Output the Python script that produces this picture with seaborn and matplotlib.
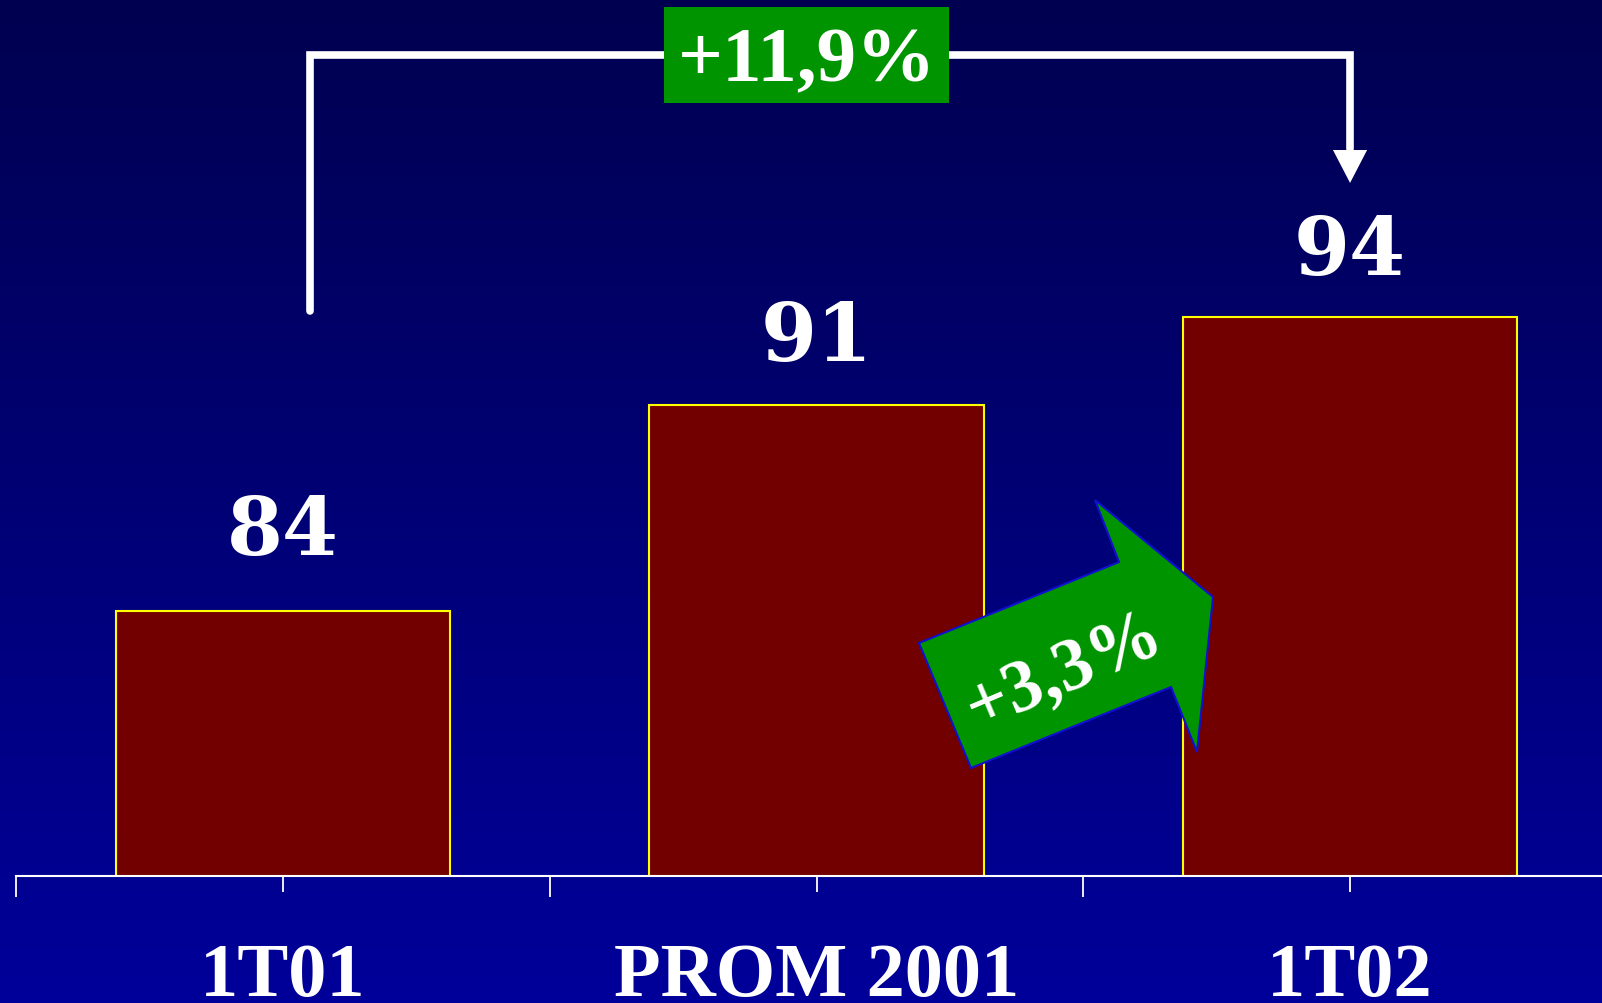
import matplotlib
matplotlib.use("Agg")
import matplotlib.pyplot as plt
import matplotlib.transforms as mtransforms
from matplotlib.colors import LinearSegmentedColormap
from matplotlib.patches import Polygon, Rectangle
import seaborn as sns
import numpy as np
import pandas as pd

# data
categories = ["1T01", "PROM 2001", "1T02"]
values = [84, 91, 94]
value_labels = ["84", "91", "94"]
total_growth = "+11,9%"
last_growth = "+3,3%"

W, H = 1602, 1004
BAR_COLOR = "#730000"
GREEN = "#009400"
label_offsets = [1.95, 1.55, 1.45]  # gap between bar top and value label (data units)

sns.set_style("white")
df = pd.DataFrame({"periodo": categories, "valor": values})

fig = plt.figure(figsize=(W / 100, H / 100), dpi=100)

# gradient background
bg = fig.add_axes([0, 0, 1, 1], zorder=0)
cmap = LinearSegmentedColormap.from_list("bg", ["#000050", "#00009a"])
grad = np.linspace(0, 1, 256).reshape(-1, 1)
bg.imshow(grad, aspect="auto", cmap=cmap, extent=[0, 1, 0, 1], origin="upper")
bg.axis("off")

# main axes: baseline at y=876.6 px, 533.5 px per category, 29.4 px per unit
base_px = 876.6
ax = fig.add_axes([16.3 / W, (H - base_px) / H, 3 * 533.5 / W, base_px / H], zorder=1)
ax.patch.set_alpha(0)

sns.barplot(data=df, x="periodo", y="valor", ax=ax, color=BAR_COLOR,
            saturation=1, width=0.627, edgecolor="#ffff00", linewidth=1.5)

ax.set_xlim(-0.5, 2.5)
ax.set_ylim(75, 75 + base_px / 29.4)
ax.set_xlabel("")
ax.set_ylabel("")
ax.set_yticks([])
for s in ["left", "top", "right"]:
    ax.spines[s].set_visible(False)
ax.spines["bottom"].set_color("white")
ax.spines["bottom"].set_linewidth(1.5)

ax.set_xticks(range(len(categories)))
ax.set_xticklabels(categories, fontfamily="Liberation Serif", fontweight="bold",
                   fontsize=55, color="white")
ax.set_xticks([-0.5, 0.5, 1.5, 2.5], minor=True)
ax.tick_params(axis="x", which="major", bottom=True, length=11.5, width=1.3,
               color="white", pad=36)
ax.tick_params(axis="x", which="minor", bottom=True, length=15, width=1.3,
               color="white")

# value labels
for i, (v, lab, off) in enumerate(zip(values, value_labels, label_offsets)):
    ax.text(i, v + off, lab, ha="center", va="baseline", color="white",
            fontfamily="DejaVu Serif", fontweight="bold", fontsize=58)

# bracket from first to last bar
bx0, bx1 = 0.05, 2.0
top_y, left_y, head_y, tip_y = 102.9, 94.2, 99.68, 98.56
ax.plot([bx0, bx0, bx1, bx1], [left_y, top_y, top_y, head_y + 0.05],
        color="white", lw=5.5, solid_capstyle="round", solid_joinstyle="miter",
        zorder=4, clip_on=False)
ax.add_patch(Polygon([(bx1 - 0.032, head_y), (bx1 + 0.032, head_y), (bx1, tip_y)],
                     closed=True, fc="white", ec="none", zorder=4))

ax.add_patch(Rectangle((0.714, 101.28), 0.534, 3.26, fc=GREEN, ec="none", zorder=5,
                       clip_on=False))
ax.text(0.982, 102.04, total_growth, ha="center", va="baseline", color="white",
        fontfamily="Liberation Serif", fontweight="bold", fontsize=57, zorder=6)

# tilted block arrow (pixel coords, y down)
px = mtransforms.Affine2D().scale(1 / W, -1 / H).translate(0, 1) + fig.transFigure
arrow_pts = [(919, 644), (1119, 563), (1095, 501), (1213, 598),
             (1197, 753), (1171, 688), (971, 769)]
ax.add_patch(Polygon(arrow_pts, closed=True, transform=px, fc=GREEN,
                     ec="#1010d0", lw=1.5, zorder=5, clip_on=False))
ax.text(1064, 672, last_growth, transform=px, rotation=23, rotation_mode="anchor",
        ha="center", va="center", color="white", fontfamily="Liberation Serif",
        fontweight="bold", fontsize=53, zorder=6)

fig.savefig("out.png", dpi=100)
